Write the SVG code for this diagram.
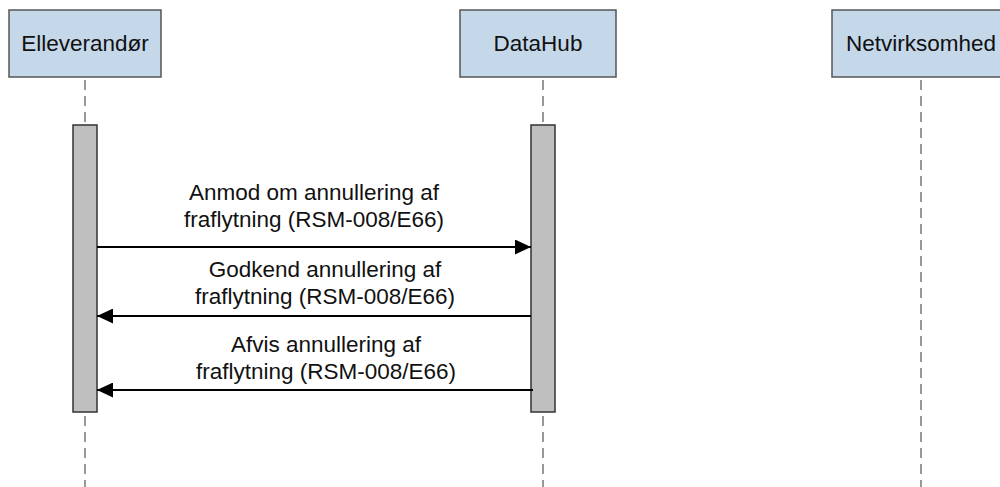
<svg xmlns="http://www.w3.org/2000/svg" width="1000" height="487" viewBox="0 0 1000 487">
<defs>
<style>
.actor{fill:#c5d8ea;stroke:#555555;stroke-width:1.5}
.label{font-family:"Liberation Sans",Arial,sans-serif;font-size:22.5px;fill:#111;text-anchor:middle}
.life{stroke:#555555;stroke-width:1.2;stroke-dasharray:10 6;fill:none}
.bar{fill:#bfbfbf;stroke:#333333;stroke-width:1.5}
.msg{stroke:#000;stroke-width:2;fill:none;marker-end:url(#arrow)}
</style>
<marker id="arrow" markerUnits="userSpaceOnUse" markerWidth="17" markerHeight="15" refX="16" refY="7.5" orient="auto">
<path d="M0,0 L16,7.5 L0,15 Z" fill="#000"/>
</marker>
</defs>
<rect width="1000" height="487" fill="#ffffff"/>
<g id="node-elleverandor">
<rect class="actor" x="9" y="10" width="152" height="67"/>
<text class="label" x="85" y="51">Elleverandør</text>
<line class="life" x1="85" y1="80" x2="85" y2="487"/>
<rect class="bar" x="73" y="125" width="24" height="287"/>
</g>
<g id="node-datahub">
<rect class="actor" x="460" y="10" width="156" height="67"/>
<text class="label" x="538" y="51">DataHub</text>
<line class="life" x1="543" y1="80" x2="543" y2="487"/>
<rect class="bar" x="531" y="125" width="24" height="287"/>
</g>
<g id="node-netvirksomhed">
<rect class="actor" x="832" y="10" width="178" height="67"/>
<text class="label" x="921" y="51">Netvirksomhed</text>
<line class="life" x1="921" y1="80" x2="921" y2="487"/>
</g>
<g id="connectors">
<line class="msg" x1="97" y1="247" x2="531" y2="247"/>
<text class="label" x="314" y="200">Anmod om annullering af</text>
<text class="label" x="314" y="227">fraflytning (RSM-008/E66)</text>
<line class="msg" x1="531" y1="316" x2="97" y2="316"/>
<text class="label" x="325" y="277">Godkend annullering af</text>
<text class="label" x="325" y="304">fraflytning (RSM-008/E66)</text>
<line class="msg" x1="533" y1="390" x2="97" y2="390"/>
<text class="label" x="326" y="352">Afvis annullering af</text>
<text class="label" x="326" y="379">fraflytning (RSM-008/E66)</text>
</g>
</svg>
